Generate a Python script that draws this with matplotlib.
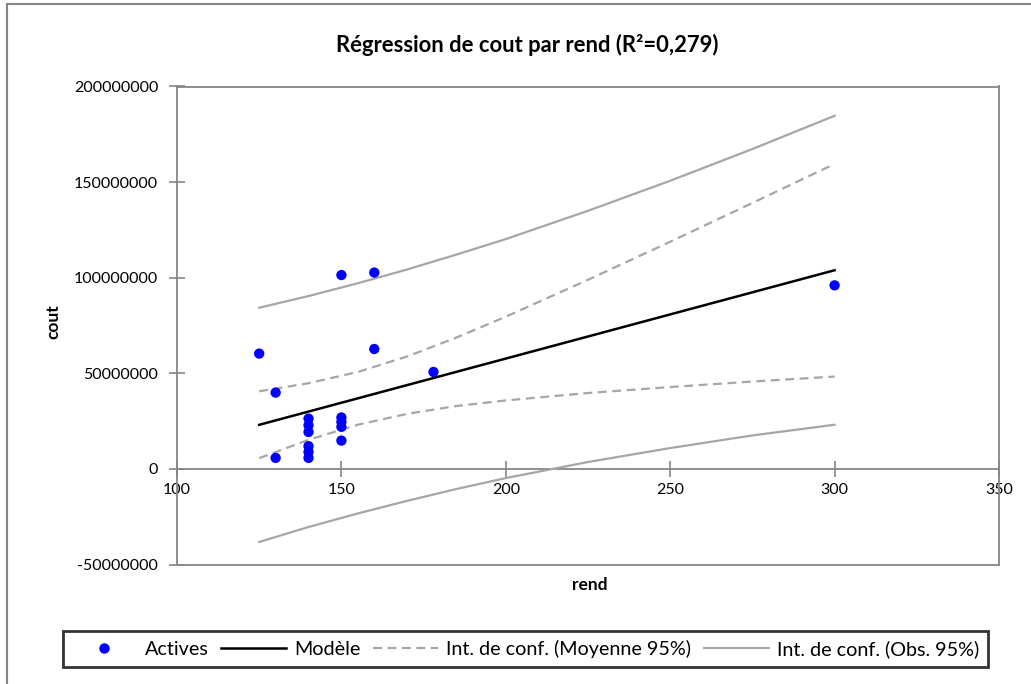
import matplotlib
matplotlib.use("Agg")
import matplotlib.pyplot as plt
from matplotlib.lines import Line2D
from matplotlib.patches import Rectangle
from matplotlib.ticker import FuncFormatter

plt.rcParams['font.family'] = ['Lato', 'DejaVu Sans']

# observations (rend, cout)
rend = [125, 130, 130, 140, 140, 140, 140, 140, 140,
        150, 150, 150, 150, 150, 160, 160, 178, 300]
cout = [60.3e6, 39.9e6, 5.75e6, 26.3e6, 22.8e6, 19.3e6, 11.9e6, 8.9e6, 5.75e6,
        26.9e6, 24.6e6, 22.0e6, 14.8e6, 101.4e6, 102.7e6, 62.7e6, 50.7e6, 96.0e6]

# model and confidence bands
x_curve = [125, 140, 155, 170, 185, 200, 225, 250, 275, 300]
modele = [23.05e6, 29.98e6, 36.91e6, 43.84e6, 50.77e6, 57.70e6, 69.25e6, 80.80e6, 92.35e6, 103.90e6]
moy_haut = [40.6e6, 44.8e6, 50.7e6, 58.8e6, 68.7e6, 79.6e6, 98.9e6, 118.8e6, 139.1e6, 159.5e6]
moy_bas = [5.6e6, 15.2e6, 23.1e6, 28.8e6, 32.9e6, 35.8e6, 39.7e6, 42.8e6, 45.7e6, 48.3e6]
obs_haut = [84.3e6, 90.4e6, 97.1e6, 104.3e6, 112.1e6, 120.2e6, 135.0e6, 150.7e6, 167.3e6, 184.7e6]
obs_bas = [-38.2e6, -30.4e6, -23.3e6, -16.7e6, -10.5e6, -4.8e6, 3.6e6, 10.9e6, 17.5e6, 23.1e6]

x_ticks = [100, 150, 200, 250, 300, 350]
y_ticks = [-50000000, 0, 50000000, 100000000, 150000000, 200000000]

W, H = 1031, 684
fig = plt.figure(figsize=(W / 100, H / 100), dpi=100)

# outer chart frame (runs off the right/bottom edge)
fig.patches.append(Rectangle((7 / W, -0.05), 1.1, 1 - 4 / H + 0.05,
                             transform=fig.transFigure, fill=False,
                             edgecolor='#868686', linewidth=1.5))

ax = fig.add_axes([177 / W, 1 - 564.5 / H, (999 - 177) / W, (564.5 - 86.5) / H])

gris = '#A6A6A6'
ax.plot(x_curve, obs_haut, color=gris, lw=1.6, zorder=2)
ax.plot(x_curve, obs_bas, color=gris, lw=1.6, zorder=2)
ax.plot(x_curve, moy_haut, color=gris, lw=1.6, ls=(0, (4, 2.5)), zorder=2)
ax.plot(x_curve, moy_bas, color=gris, lw=1.6, ls=(0, (4, 2.5)), zorder=2)
ax.plot(x_curve, modele, color='black', lw=1.8, zorder=3)
ax.scatter(rend, cout, s=55, color='#0000FF', edgecolors='none', zorder=4)

ax.set_xlim(100, 350)
ax.set_ylim(-50000000, 200000000)

for sp in ax.spines.values():
    sp.set_color('#868686')
    sp.set_linewidth(1.3)

ax.set_yticks(y_ticks)
ax.yaxis.set_major_formatter(FuncFormatter(lambda v, p: str(int(v))))
ax.tick_params(axis='y', direction='inout', length=11, width=1.2, color='#868686',
               labelsize=11.5, pad=8, labelcolor='black')
ax.tick_params(axis='x', bottom=False, labelbottom=False)

# category axis crossing at y = 0
zero = (0 - (-50000000)) / 250000000
sec = ax.secondary_xaxis(zero)
sec.set_xticks(x_ticks)
sec.spines['bottom'].set_color('#868686')
sec.spines['bottom'].set_linewidth(1.3)
sec.tick_params(direction='inout', length=11, width=1.2, color='#868686',
                labelsize=11.5, pad=5, labelcolor='black')

fig.text(527 / W, 1 - 45 / H, 'Régression de cout par rend (R²=0,279)',
         ha='center', va='center', fontsize=15.8, fontweight='bold')
fig.text(53 / W, 1 - 322 / H, 'cout', rotation=90, ha='center', va='center',
         fontsize=12.5, fontweight='bold')
fig.text(590 / W, 1 - 585 / H, 'rend', ha='center', va='center',
         fontsize=12.5, fontweight='bold')

handles = [
    Line2D([], [], ls='none', marker='o', markersize=7.5, color='#0000FF', markeredgewidth=0),
    Line2D([], [], color='black', lw=1.8),
    Line2D([], [], color=gris, lw=1.6, ls=(0, (4, 2.5))),
    Line2D([], [], color=gris, lw=1.6),
]
labels = ['Actives', 'Modèle', 'Int. de conf. (Moyenne 95%)', 'Int. de conf. (Obs. 95%)']
leg = fig.legend(handles, labels, loc='center', bbox_to_anchor=(525.5 / W, 1 - 649 / H),
                 ncol=4, fontsize=14.2, frameon=True, fancybox=False,
                 handlelength=3.3, handletextpad=0.4, columnspacing=0.65,
                 borderpad=0.45)
leg.get_frame().set_edgecolor('black')
leg.get_frame().set_linewidth(2)

fig.savefig('out.png', dpi=100)
